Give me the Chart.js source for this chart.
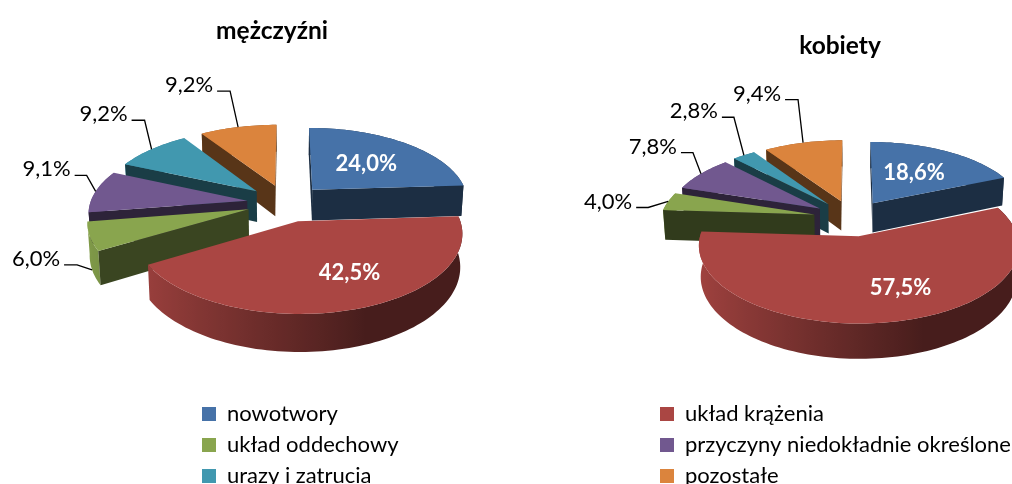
<!DOCTYPE html>
<html lang="pl">
<head>
<meta charset="utf-8">
<title>Przyczyny zgonów</title>
<script src="https://cdn.jsdelivr.net/npm/chart.js@4"></script>
<style>
html,body{margin:0;padding:0;width:1012px;height:484px;overflow:hidden;background:#fff}
canvas{position:absolute;top:0}
#men{left:0}
#women{left:506px}
</style>
</head>
<body>
<canvas id="men" width="544" height="500"></canvas>
<canvas id="women" width="668" height="500"></canvas>
<script>
const categories = ['nowotwory','układ krążenia','układ oddechowy','przyczyny niedokładnie określone','urazy i zatrucia','pozostałe'];
const menValues = [24.0,42.5,6.0,9.1,9.2,9.2];
const womenValues = [18.6,57.5,4.0,7.8,2.8,9.4];
const colors = ['#4672A8','#AA4643','#89A54E','#71588F','#4198AF','#DB843D'];
const FONT = 'Lato, Carlito, Calibri, sans-serif';
const LABEL_SIZE = 22;
const LEGEND_PADDING = 9;

const menLayout = {
  cx:286, cy:203, A:74, B:157, p:.14, D:31.5, explode:.25, legendX:202,
  cutShade:[.40,0,.42,.40,.40,.40],
  labels:[
    {r:.58,dx:-2,dy:2},
    {r:.62,dx:18,dy:0},
    {z:1,ex:-15,ey:-5,h:13},
    {z:0,ex:-9,ey:-16,h:12},
    {z:0,ex:-7,ey:-29,h:13},
    {z:0,ex:-8,ey:-36,h:13}
  ]
};
const womenLayout = {
  cx:346, cy:218, A:72, B:154, p:.12, D:30, explode:.25, legendX:154,
  cutShade:[.40,0,.36,.40,.40,.40],
  labels:[
    {r:.58,dx:-3,dy:1},
    {r:.60,dx:24,dy:3},
    {z:0,ex:-20,ey:6,h:12},
    {z:0,ex:-8,ey:-21,h:12},
    {z:0,ex:-10,ey:-38,h:12},
    {z:0,ex:-5,ey:-43,h:13}
  ]
};

function hexRgb(h){return [1,3,5].map(i=>parseInt(h.substr(i,2),16));}
function shade(h,m){return 'rgb('+hexRgb(h).map(c=>Math.round(c*m)).join(',')+')';}

function pie3dPlugin(cfg, values){
  const P=(u,v,z)=>{
    const s=1/(1-cfg.p*v);
    let x=cfg.cx+cfg.B*u*s, y=cfg.cy+cfg.A*v*s;
    if(z){y+=cfg.D*s*z; x=cfg.cx+(x-cfg.cx)*(1-.012*z);}
    return [x,y];
  };
  const poly=(ctx,pts,fill)=>{
    ctx.beginPath();
    pts.forEach((q,i)=>i?ctx.lineTo(q[0],q[1]):ctx.moveTo(q[0],q[1]));
    ctx.closePath();
    ctx.fillStyle=fill;
    ctx.fill();
  };
  // a cut face shows only if the slice's interior lies above its top edge on screen
  const cutVisible=(a,c,inner)=>{
    const ex=c[0]-a[0],ey=c[1]-a[1];
    const sideDown=ex*1;                       // cross(edge,(0,1))
    const sideIn=ex*(inner[1]-a[1])-ey*(inner[0]-a[0]);
    return sideDown*sideIn<0;
  };
  return {
    id:'pie3d',
    afterLayout(chart){
      const lg=chart.legend;
      lg.left=cfg.legendX-LEGEND_PADDING;
      lg.right=chart.width;
      lg.width=lg.right-lg.left;
      lg.top=380;
      lg.bottom=496;
      lg.height=lg.bottom-lg.top;
    },
    beforeDatasetsDraw(chart){
      const ctx=chart.ctx;
      const arcs=chart.getDatasetMeta(0).data.map((a,i)=>{
        const st=a.startAngle,en=a.endAngle,mid=(st+en)/2;
        return {i,st,en,mid,ou:Math.cos(mid)*cfg.explode,ov:Math.sin(mid)*cfg.explode,color:a.options.backgroundColor};
      });
      ctx.save();
      arcs.slice().sort((a,b)=>a.ov-b.ov).forEach(s=>{
        const n=Math.max(2,Math.ceil((s.en-s.st)/0.03));
        const rim=[];
        for(let k=0;k<=n;k++){
          const t=s.st+(s.en-s.st)*k/n;
          rim.push({t,u:s.ou+Math.cos(t),v:s.ov+Math.sin(t)});
        }
        // rim: one polygon, shaded left (light) to right (dark)
        const top=rim.map(r=>P(r.u,r.v,0));
        const bottom=rim.map(r=>P(r.u,r.v,1));
        const xs=top.map(q=>q[0]);
        const x0=Math.min(...xs),x1=Math.max(...xs);
        const grad=ctx.createLinearGradient(x0,0,x1+.01,0);
        const pairs=rim.map((r,k)=>{
          const c=Math.cos(r.t);
          return [(xs[k]-x0)/(x1-x0+.01),.42+.53*Math.min(1,Math.max(0,(.35-c)/1.35))];
        }).sort((a,b)=>a[0]-b[0]);
        pairs.forEach(p=>grad.addColorStop(p[0],shade(s.color,p[1])));
        poly(ctx,top.concat(bottom.slice().reverse()),grad);
        // cut faces
        const cut=shade(s.color,cfg.cutShade[s.i]||.4);
        const apex=P(s.ou,s.ov,0);
        const inner=P(s.ou+Math.cos(s.mid)*.5,s.ov+Math.sin(s.mid)*.5,0);
        [rim[n],rim[0]].forEach(e=>{
          const corner=P(e.u,e.v,0);
          if(cutVisible(apex,corner,inner)){
            poly(ctx,[apex,corner,P(e.u,e.v,1),P(s.ou,s.ov,1)],cut);
          }
        });
        // top face
        poly(ctx,[apex].concat(top),s.color);
      });
      // value labels
      ctx.textBaseline='middle';
      arcs.forEach(s=>{
        const lay=cfg.labels[s.i];
        const text=values[s.i].toFixed(1).replace('.',',')+'%';
        const cu=Math.cos(s.mid),cv=Math.sin(s.mid);
        if(lay.r!==undefined){
          const q=P(s.ou+cu*lay.r,s.ov+cv*lay.r,0);
          ctx.font='bold '+LABEL_SIZE+'px '+FONT;
          ctx.fillStyle='#fff';ctx.textAlign='center';
          ctx.fillText(text,q[0]+lay.dx,q[1]+lay.dy);
        }else{
          const q=P(s.ou+cu,s.ov+cv,lay.z);
          const ex=q[0]+lay.ex,ey=q[1]+lay.ey,hx=ex-lay.h;
          ctx.beginPath();ctx.moveTo(q[0],q[1]);ctx.lineTo(ex,ey);ctx.lineTo(hx,ey);
          ctx.strokeStyle='#000';ctx.lineWidth=1.3;ctx.stroke();
          ctx.font=LABEL_SIZE+'px '+FONT;
          ctx.fillStyle='#000';ctx.textAlign='right';
          ctx.fillText(text,hx-4,ey-6);
        }
      });
      ctx.restore();
      return false;
    }
  };
}

function makeChart(id,title,values,cfg,keep,titlePad){
  return new Chart(document.getElementById(id),{
    type:'pie',
    data:{labels:categories,datasets:[{data:values,backgroundColor:colors,borderWidth:0}]},
    options:{
      responsive:false,animation:false,
      plugins:{
        tooltip:{enabled:false},
        title:{display:true,text:title,color:'#000',
          font:{family:FONT,size:24.5,weight:'bold'},padding:titlePad},
        legend:{position:'left',align:'end',
          labels:{boxWidth:14,boxHeight:14,padding:LEGEND_PADDING,color:'#000',
            font:{family:FONT,size:22},
            filter:item=>item.index%2===keep}}
      }
    },
    plugins:[pie3dPlugin(cfg,values)]
  });
}
makeChart('men','mężczyźni',menValues,menLayout,0,{top:16,bottom:8});
makeChart('women','kobiety',womenValues,womenLayout,1,{top:31,bottom:8});
</script>
</body>
</html>
